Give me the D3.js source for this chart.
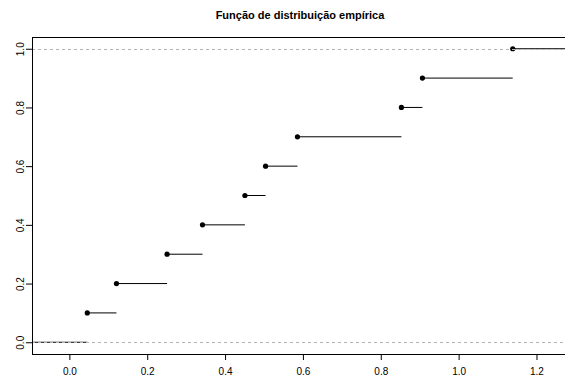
<!DOCTYPE html>
<html>
<head>
<meta charset="utf-8">
<script src="https://cdn.jsdelivr.net/npm/d3@7"></script>
<style>
  body { margin: 0; background: #fff; }
  svg { display: block; font-family: "Liberation Sans", Arial, sans-serif; }
</style>
</head>
<body>
<div id="chart"></div>
<script>
// ---------------------------------------------------------------
// ECDF (stile R plot.ecdf) disegnata con D3
// ---------------------------------------------------------------
const title = "Função de distribuição empírica";

// punti di salto e valori della funzione
const knots = [0.046, 0.121, 0.251, 0.342, 0.451, 0.504, 0.586, 0.853, 0.907, 1.139];
const fnValues = [0.1, 0.2, 0.3, 0.4, 0.5, 0.6, 0.7, 0.8, 0.9, 1.0];
const xTicks = [0, 0.2, 0.4, 0.6, 0.8, 1.0, 1.2];
const yTicks = [0, 0.2, 0.4, 0.6, 0.8, 1.0];
const hLines = [0, 1];

const width = 565, height = 376;
const plot = { left: 32, right: 568, top: 37, bottom: 354 };

// limiti dell'asse x come in plot.stepfun + estensione del 4%
const diffs = d3.pairs(knots, (a, b) => b - a);
const span = d3.max(knots) - d3.min(knots);
const dr = Math.max(0.08 * span, d3.median(diffs));
const xlim = [d3.min(knots) - dr, d3.max(knots) + dr];
const ext = 0.04 * (xlim[1] - xlim[0]);

const x = d3.scaleLinear()
  .domain([xlim[0] - ext, xlim[1] + ext])
  .range([plot.left, plot.right]);
const y = d3.scaleLinear()
  .domain([-0.04, 1.04])
  .range([plot.bottom, plot.top]);

const svg = d3.select("#chart").append("svg")
  .attr("width", width)
  .attr("height", height);

// titolo
svg.append("text")
  .attr("x", (plot.left + plot.right) / 2)
  .attr("y", 19)
  .attr("text-anchor", "middle")
  .style("font-weight", "bold")
  .style("font-size", "11px")
  .text(title);

const clip = svg.append("clipPath").attr("id", "clip")
  .append("rect")
  .attr("x", plot.left).attr("y", plot.top)
  .attr("width", plot.right - plot.left)
  .attr("height", plot.bottom - plot.top);

const g = svg.append("g").attr("clip-path", "url(#clip)");

// segmenti orizzontali della funzione a gradini
const steps = [{ x0: xlim[0] - dr, x1: knots[0], v: 0 }];
knots.forEach((k, i) => {
  steps.push({ x0: k, x1: i < knots.length - 1 ? knots[i + 1] : xlim[1] + dr, v: fnValues[i] });
});

g.selectAll(".step")
  .data(steps)
  .enter().append("line")
  .attr("class", "step")
  .attr("x1", d => x(d.x0))
  .attr("x2", d => x(d.x1))
  .attr("y1", d => y(d.v))
  .attr("y2", d => y(d.v))
  .attr("stroke", "#000")
  .attr("stroke-width", 1);

// punti
g.selectAll(".pt")
  .data(knots)
  .enter().append("circle")
  .attr("class", "pt")
  .attr("cx", d => x(d))
  .attr("cy", (d, i) => y(fnValues[i]))
  .attr("r", 2.6)
  .attr("fill", "#000");

// linee tratteggiate a 0 e 1 (disegnate sopra, come abline)
g.selectAll(".hline")
  .data(hLines)
  .enter().append("line")
  .attr("class", "hline")
  .attr("x1", plot.left)
  .attr("x2", plot.right)
  .attr("y1", d => Math.round(y(d)) + 0.5)
  .attr("y2", d => Math.round(y(d)) + 0.5)
  .attr("stroke", "#b3b3b3")
  .attr("stroke-dasharray", "3,3");

// assi
const xAxis = svg.append("g")
  .attr("transform", `translate(0,${plot.bottom})`)
  .call(d3.axisBottom(x).tickValues(xTicks).tickSize(6).tickPadding(8)
    .tickFormat(d3.format(".1f")));
xAxis.select(".domain").remove();
xAxis.selectAll("text").style("font-size", "10px").attr("fill", "#000");

const yAxis = svg.append("g")
  .attr("transform", `translate(${plot.left},0)`)
  .call(d3.axisLeft(y).tickValues(yTicks).tickSize(6)
    .tickFormat(d3.format(".1f")));
yAxis.select(".domain").remove();
yAxis.selectAll("text")
  .attr("transform", "rotate(-90)")
  .attr("x", 0)
  .attr("y", -8)
  .attr("dy", 0)
  .attr("text-anchor", "middle")
  .style("font-size", "10px")
  .attr("fill", "#000");

// cornice
svg.append("rect")
  .attr("x", plot.left + 0.5)
  .attr("y", plot.top + 0.5)
  .attr("width", plot.right - plot.left)
  .attr("height", plot.bottom - plot.top)
  .attr("fill", "none")
  .attr("stroke", "#000");
</script>
</body>
</html>
